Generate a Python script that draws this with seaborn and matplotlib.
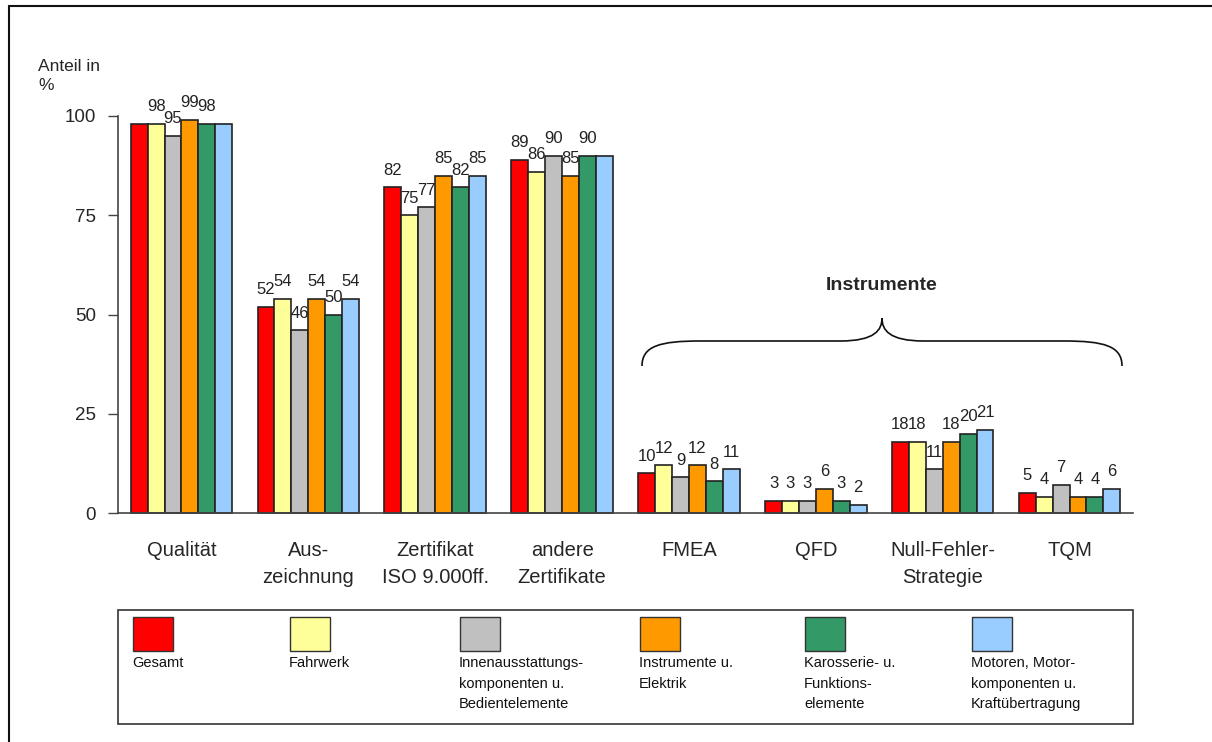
import matplotlib
matplotlib.use("Agg")
import matplotlib.pyplot as plt
from matplotlib.patches import Rectangle, PathPatch
from matplotlib.path import Path
import seaborn as sns
import pandas as pd

categories = ["Qualität", "Aus-\nzeichnung", "Zertifikat\nISO 9.000ff.", "andere\nZertifikate",
              "FMEA", "QFD", "Null-Fehler-\nStrategie", "TQM"]
series = ["Gesamt", "Fahrwerk", "Innenausstattungs-\nkomponenten u.\nBedientelemente",
          "Instrumente u.\nElektrik", "Karosserie- u.\nFunktions-\nelemente",
          "Motoren, Motor-\nkomponenten u.\nKraftübertragung"]
gesamt = [98, 52, 82, 89, 10, 3, 18, 5]
fahrwerk = [98, 54, 75, 86, 12, 3, 18, 4]
innen = [95, 46, 77, 90, 9, 3, 11, 7]
instrumente = [99, 54, 85, 85, 12, 6, 18, 4]
karosserie = [98, 50, 82, 90, 8, 3, 20, 4]
motoren = [98, 54, 85, 90, 11, 2, 21, 6]
colors = ["#FF0000", "#FFFF99", "#C0C0C0", "#FF9900", "#339966", "#99CCFF"]
yticks = [0, 25, 50, 75, 100]
# (series index, category index) of value labels left out where they would collide
hidden_labels = {(0, 0), (5, 0), (5, 3)}

values = [gesamt, fahrwerk, innen, instrumente, karosserie, motoren]
rows = []
for s, vals in zip(series, values):
    for c, v in zip(categories, vals):
        rows.append({"Kategorie": c, "Gruppe": s, "Anteil": v})
df = pd.DataFrame(rows)

sns.set_theme(style="white")
plt.rcParams["font.family"] = ["Liberation Sans", "DejaVu Sans"]

W, H = 1212, 742
fig = plt.figure(figsize=(W / 100, H / 100), dpi=100)
ax = fig.add_axes([118 / W, 1 - 513 / H, (1133 - 118) / W, (513 - 116) / H])

sns.barplot(data=df, x="Kategorie", y="Anteil", hue="Gruppe", order=categories,
            hue_order=series, palette=colors, saturation=1, width=0.8, gap=0, ax=ax,
            edgecolor="#222222", linewidth=1.2, legend=False, errorbar=None)

# value labels above each bar
for si, cont in enumerate(ax.containers):
    labels = ["" if (si, ci) in hidden_labels else f"{int(b.get_height())}"
              for ci, b in enumerate(cont)]
    ax.bar_label(cont, labels=labels, padding=7, fontsize=12, color="#222222", clip_on=False)

ax.set_xlim(-0.5, len(categories) - 0.5)
ax.set_ylim(0, 100)
ax.set_yticks(yticks, [str(t) for t in yticks], fontsize=13.5)
ax.set_xticks(range(len(categories)), categories, fontsize=14.5, linespacing=1.55)
ax.set_xlabel("")
ax.set_ylabel("")
ax.tick_params(axis="y", direction="out", length=7, width=1, color="#444444", pad=9, left=True)
ax.tick_params(axis="x", length=0, pad=20)
for side in ["top", "right"]:
    ax.spines[side].set_visible(False)
for side in ["left", "bottom"]:
    ax.spines[side].set_color("#444444")
    ax.spines[side].set_linewidth(1.2)
for b in ax.patches:
    b.set_clip_on(False)


def fx(x):
    return x / W


def fy(y):
    return 1 - y / H


fig.text(fx(38), fy(76), "Anteil in\n%", fontsize=12.5, ha="left", va="center", linespacing=1.35)

# bracket over the instrument categories
pts = [(642, 366), (642, 346), (660, 341), (700, 341),
       (840, 341), (875, 341), (882, 330), (882, 318),
       (882, 330), (889, 341), (924, 341),
       (1064, 341), (1104, 341), (1122, 346), (1122, 366)]
codes = [Path.MOVETO, Path.CURVE4, Path.CURVE4, Path.CURVE4,
         Path.LINETO, Path.CURVE4, Path.CURVE4, Path.CURVE4,
         Path.CURVE4, Path.CURVE4, Path.CURVE4,
         Path.LINETO, Path.CURVE4, Path.CURVE4, Path.CURVE4]
brace = Path([(fx(x), fy(y)) for x, y in pts], codes)
fig.add_artist(PathPatch(brace, facecolor="none", edgecolor="#111111", lw=1.2,
                         transform=fig.transFigure))
fig.text(fx(882), fy(285), "Instrumente", fontsize=14, fontweight="bold", ha="center", va="center")

# legend box
fig.add_artist(Rectangle((fx(118), fy(724)), (1133 - 118) / W, (724 - 610) / H,
                         transform=fig.transFigure, facecolor="none", edgecolor="#333333", lw=1.2))
leg_x = [133, 290, 460, 640, 805, 972]
for x, s, c in zip(leg_x, series, colors):
    fig.add_artist(Rectangle((fx(x), fy(651)), 40 / W, 34 / H, transform=fig.transFigure,
                             facecolor=c, edgecolor="#333333", lw=1.0))
    fig.text(fx(x - 1), fy(656), s, fontsize=10.5, ha="left", va="top", linespacing=1.6,
             color="#111111")

# outer frame
fig.add_artist(Rectangle((fx(9), fy(760)), (1230 - 9) / W, (760 - 6) / H,
                         transform=fig.transFigure, facecolor="none", edgecolor="#111111", lw=1.5,
                         clip_on=False))

fig.savefig("out.png", dpi=100)
